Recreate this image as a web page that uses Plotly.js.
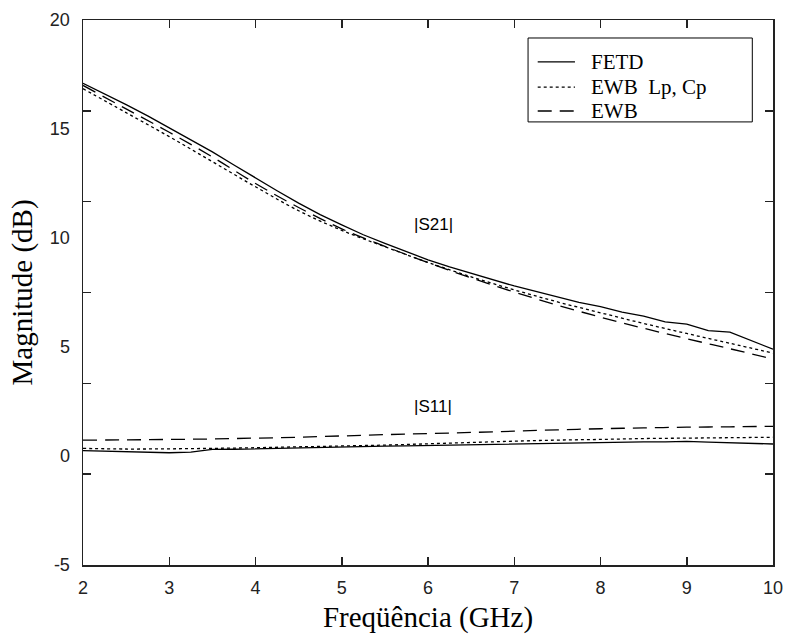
<!DOCTYPE html>
<html>
<head>
<meta charset="utf-8">
<script src="https://cdn.plot.ly/plotly-3.0.1.min.js"></script>
<style>html,body{margin:0;padding:0;background:#fff;}#chart{width:786px;height:634px;}</style>
</head>
<body>
<div id="chart"></div>
<script>
// Frequency grids (GHz)
const freqFine = [2.0,2.25,2.5,2.75,3.0,3.25,3.5,3.75,4.0,4.25,4.5,4.75,5.0,5.25,5.5,5.75,6.0,6.25,6.5,6.75,7.0,7.25,7.5,7.75,8.0,8.25,8.5,8.75,9.0,9.25,9.5,9.75,10.0];
const freq = [2.0,2.5,3.0,3.5,4.0,4.5,5.0,5.5,6.0,6.5,7.0,7.5,8.0,8.5,9.0,9.5,10.0];

// |S21| (dB)
const s21FETD = [17.1,16.62,16.12,15.6,15.05,14.52,13.95,13.35,12.75,12.17,11.6,11.07,10.6,10.15,9.75,9.37,9.0,8.67,8.37,8.08,7.8,7.55,7.3,7.05,6.85,6.6,6.42,6.15,6.05,5.75,5.68,5.3,4.9];
const s21EWBLpCp = [16.85,15.75,14.65,13.5,12.35,11.25,10.35,9.6,8.88,8.22,7.62,7.07,6.57,6.08,5.62,5.17,4.72];
const s21EWB = [17.0,15.92,14.85,13.72,12.5,11.4,10.42,9.62,8.87,8.17,7.52,6.92,6.37,5.86,5.38,4.92,4.45];

// |S11| (dB)
const s11FETD = [0.25,0.22,0.18,0.15,0.15,0.18,0.3,0.31,0.33,0.36,0.4,0.4,0.42,0.43,0.45,0.46,0.48,0.5,0.52,0.53,0.55,0.58,0.6,0.6,0.62,0.63,0.65,0.65,0.67,0.64,0.62,0.6,0.55];
const s11EWBLpCp = [0.35,0.32,0.33,0.35,0.38,0.42,0.46,0.5,0.56,0.62,0.68,0.73,0.76,0.8,0.82,0.84,0.86];
const s11EWB = [0.73,0.74,0.76,0.78,0.82,0.86,0.92,0.98,1.03,1.08,1.14,1.2,1.25,1.29,1.32,1.34,1.36];

// Series names & axis labels
const seriesNames = ['FETD','EWB  Lp, Cp','EWB'];
const yLabelVals = [20,15,10,5,0,-5];
const yLabelText = ['20','15','10','5','0','-5'];
const yTickMarks = [20,15.833,11.667,7.5,3.333,-0.833,-5];
const xTickVals = [2,3,4,5,6,7,8,9,10];
const curveLabels = ['|S21|','|S11|'];
const curveLabelX = [6.06,6.06];
const curveLabelY = [10.6,2.25];

const black = '#000';
const lineSolid = {color: black, width: 1.3, dash: 'solid'};
const lineDot = {color: black, width: 1.3, dash: '3px,3px'};
const lineDash = {color: black, width: 1.3, dash: '14px,8px'};
const seriesLines = [lineSolid, lineDot, lineDash];

const traces = [
  {x: freqFine, y: s21FETD, name: seriesNames[0], mode: 'lines', line: lineSolid},
  {x: freq, y: s21EWBLpCp, name: seriesNames[1], mode: 'lines', line: Object.assign({shape:'spline'}, lineDot)},
  {x: freq, y: s21EWB, name: seriesNames[2], mode: 'lines', line: Object.assign({shape:'spline'}, lineDash)},
  {x: freqFine, y: s11FETD, name: seriesNames[0], mode: 'lines', line: lineSolid},
  {x: freq, y: s11EWBLpCp, name: seriesNames[1], mode: 'lines', line: Object.assign({shape:'spline'}, lineDot)},
  {x: freq, y: s11EWB, name: seriesNames[2], mode: 'lines', line: Object.assign({shape:'spline'}, lineDash)},
  {x: [2], y: [-100], yaxis: 'y2', mode: 'markers', hoverinfo: 'skip', marker: {opacity: 0}}
];

const tickFont = {family: 'Liberation Sans, Arial, sans-serif', size: 18, color: '#222'};
const titleFont = {family: 'Liberation Serif, Times New Roman, serif', size: 29, color: '#000'};
const legendFont = {family: 'Liberation Serif, Times New Roman, serif', size: 21, color: '#000'};

// Legend box (paper coordinates)
const legBox = {x0: 0.645, x1: 0.970, y0: 0.813, y1: 0.967};
const legRowY = [0.923, 0.877, 0.833];
const legLineX = [0.659, 0.713];
const legTextX = 0.733;

const shapes = [
  {type: 'rect', xref: 'paper', yref: 'paper', x0: legBox.x0, x1: legBox.x1, y0: legBox.y0, y1: legBox.y1,
   line: {color: '#000', width: 1}, fillcolor: '#fff', layer: 'above'}
].concat(seriesNames.map((n, i) => ({
  type: 'line', xref: 'paper', yref: 'paper', x0: legLineX[0], x1: legLineX[1], y0: legRowY[i], y1: legRowY[i],
  line: seriesLines[i], layer: 'above'
})));

const annotations = curveLabels.map((t, i) => ({
  x: curveLabelX[i], y: curveLabelY[i], xref: 'x', yref: 'y', text: t, showarrow: false,
  font: {family: 'Liberation Sans, Arial, sans-serif', size: 17, color: '#000'}
})).concat(seriesNames.map((n, i) => ({
  x: legTextX, y: legRowY[i], xref: 'paper', yref: 'paper', xanchor: 'left', yanchor: 'middle',
  text: n.replace(/  /g, '&nbsp; '), showarrow: false, font: legendFont
})));

const layout = {
  width: 786, height: 634,
  margin: {l: 83, r: 13, t: 20, b: 69},
  paper_bgcolor: '#fff', plot_bgcolor: '#fff',
  showlegend: false,
  xaxis: {
    range: [2, 10], tickvals: xTickVals, ticks: 'inside', ticklen: 8, tickwidth: 1.5, tickcolor: '#222',
    showline: true, linecolor: '#222', linewidth: 1.5, mirror: 'ticks',
    showgrid: false, zeroline: false, tickfont: tickFont, ticklabelstandoff: 6,
    title: {text: 'Freqüência (GHz)', font: titleFont, standoff: 10}
  },
  yaxis: {
    range: [-5, 20], tickvals: yLabelVals, ticktext: yLabelText, ticks: '', showline: true, linecolor: '#222', linewidth: 1.5, mirror: true,
    showgrid: false, zeroline: false, tickfont: tickFont, ticklabelstandoff: 8,
    title: {text: 'Magnitude (dB)', font: titleFont, standoff: 8}
  },
  yaxis2: {
    overlaying: 'y', side: 'left', range: [-5, 20], tickvals: yTickMarks, showticklabels: false,
    ticks: 'inside', ticklen: 8, tickwidth: 1.5, tickcolor: '#222', mirror: 'ticks', showline: false,
    showgrid: false, zeroline: false
  },
  shapes: shapes,
  annotations: annotations
};

Plotly.newPlot('chart', traces, layout, {displayModeBar: false, staticPlot: true});
</script>
</body>
</html>
